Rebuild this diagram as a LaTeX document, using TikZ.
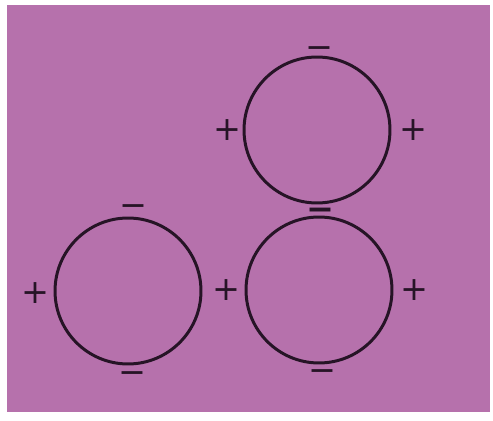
\documentclass[tikz,border=0pt]{standalone}
\usepackage{fontspec}
\setmainfont{DejaVu Sans}
\usetikzlibrary{positioning}
\definecolor{paper}{RGB}{182,113,172}
\definecolor{ink}{RGB}{38,20,38}

\begin{document}
\begin{tikzpicture}[
    x=0.02cm, y=-0.02cm,
    ring/.style={circle, draw=ink, line width=1.7pt, minimum size=2.92cm, inner sep=0pt},
    charge/.style={font=\fontsize{19}{19}\selectfont, text=ink, inner sep=0pt,
                text height=0.95em, text depth=0pt},
]
\useasboundingbox (0,0) rectangle (493,421);
\fill[white] (0,0) rectangle (493,421);
\fill[paper] (7,5) rectangle (490,412);
% the three rings
\node[ring] (upper) at (317,130) {};
\node[ring] (lowleft) at (128,291) {};
\node[ring] (lowright) at (319,290) {};
% charges on the upper ring
\node[charge] (uptop) at (319,50) {−};
\node[charge] (upleft) at (227,132) {+};
\node[charge] (upright) at (413,132) {+};
\node[charge, font=\fontsize{19}{19}\selectfont\bfseries] (contact) at (320,212) {−};
% charges on the lower rings
\node[charge] (lltop) at (133,208) {−};
\node[charge] (llleft) at (35,295) {+};
\node[charge] (middle) at (226,292) {+};
\node[charge] (llbottom) at (132,375) {−};
\node[charge] (lrright) at (414,292) {+};
\node[charge] (lrbottom) at (322,373) {−};
\end{tikzpicture}
\end{document}
